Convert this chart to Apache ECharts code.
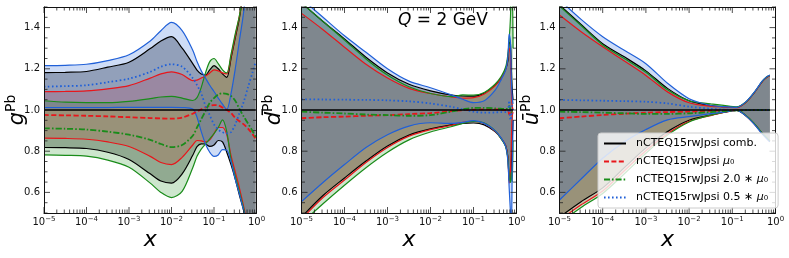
<!DOCTYPE html>
<html><head><meta charset="utf-8">
<script src="https://cdn.jsdelivr.net/npm/echarts@6/dist/echarts.min.js"></script>
<style>html,body{margin:0;padding:0;background:#fff}#c{width:789px;height:258px}</style>
</head><body><div id="c"></div>
<script>
// ---------- Panel 1: gluon g^Pb ----------
const g_logx = [-5,-4.5,-4,-3.5,-3,-2.5,-2.25,-2,-1.75,-1.5,-1.4,-1.3,-1.2,-1.1,-1.0,-0.9,-0.8,-0.7,-0.6,-0.5,-0.4,-0.3,-0.2,-0.1,-0.02];
const g_kU = [1.181,1.183,1.187,1.208,1.232,1.298,1.335,1.356,1.30,1.225,1.194,1.175,1.17,1.195,1.215,1.2,1.175,1.158,1.25,1.35,1.45,1.59,1.8,2.0,2.1];
const g_kL = [0.818,0.817,0.813,0.795,0.76,0.69,0.655,0.645,0.69,0.78,0.822,0.836,0.835,0.823,0.83,0.852,0.845,0.795,0.735,0.665,0.585,0.51,0.42,0.33,0.27];
const g_rU = [1.089,1.09,1.093,1.103,1.118,1.155,1.175,1.185,1.172,1.143,1.145,1.155,1.165,1.18,1.195,1.19,1.18,1.175,1.26,1.36,1.46,1.6,1.8,2.0,2.1];
const g_rL = [0.863,0.862,0.858,0.845,0.823,0.775,0.745,0.735,0.77,0.83,0.852,0.85,0.845,0.855,0.885,0.915,0.915,0.88,0.78,0.7,0.62,0.53,0.43,0.33,0.28];
const g_gU = [1.045,1.038,1.036,1.036,1.042,1.055,1.063,1.066,1.058,1.046,1.06,1.11,1.18,1.235,1.25,1.225,1.195,1.18,1.27,1.37,1.46,1.6,1.8,2.0,2.1];
const g_gL = [0.782,0.78,0.776,0.757,0.722,0.645,0.6,0.575,0.605,0.72,0.775,0.81,0.835,0.86,0.885,0.915,0.952,0.895,0.76,0.68,0.6,0.52,0.42,0.32,0.27];
const g_bU = [1.215,1.217,1.222,1.24,1.268,1.335,1.385,1.425,1.385,1.29,1.235,1.19,1.155,1.12,1.09,1.058,1.028,1.003,1.08,1.2,1.34,1.48,1.7,1.9,2.0];
const g_bL = [1.012,1.012,1.012,1.012,1.013,1.013,1.013,1.013,1.012,1.005,0.965,0.895,0.835,0.795,0.775,0.782,0.808,0.805,0.75,0.665,0.59,0.51,0.42,0.33,0.27];
const g_rC = [0.976,0.974,0.972,0.969,0.965,0.961,0.959,0.958,0.963,0.982,0.993,1.003,1.013,1.02,1.024,1.022,1.012,1.0,0.985,0.962,0.945,0.93,0.91,0.885,0.86];
const g_gC = [0.911,0.909,0.905,0.895,0.88,0.855,0.835,0.82,0.83,0.875,0.915,0.955,0.995,1.035,1.058,1.075,1.081,1.078,1.068,1.045,1.005,0.968,0.935,0.9,0.87];
const g_bC = [1.113,1.116,1.12,1.135,1.152,1.185,1.21,1.222,1.21,1.155,1.121,1.08,1.02,0.975,0.93,0.905,0.892,0.886,0.892,0.93,0.985,1.04,1.11,1.178,1.235];
const g_refX = [1e-5, 0.955];

// ---------- Panel 2: dbar^Pb ----------
const d_logx = [-5,-4.5,-4,-3.5,-3,-2.5,-2,-1.5,-1.25,-1,-0.75,-0.5,-0.35,-0.25,-0.2,-0.17,-0.14,-0.12,-0.1,-0.08];
const d_kU = [1.52,1.43,1.345,1.256,1.18,1.125,1.093,1.072,1.068,1.067,1.082,1.12,1.158,1.2,1.24,1.33,1.32,1.2,1.1,1.05];
const d_kL = [0.48,0.585,0.67,0.752,0.825,0.878,0.908,0.928,0.935,0.937,0.928,0.895,0.86,0.825,0.77,0.66,0.65,0.75,0.85,0.95];
const d_rU = [1.469,1.39,1.305,1.222,1.155,1.105,1.08,1.063,1.058,1.06,1.078,1.118,1.158,1.2,1.255,1.3,1.25,1.1,1.02,1.0];
const d_rL = [0.47,0.575,0.66,0.745,0.818,0.873,0.905,0.926,0.94,0.945,0.935,0.898,0.86,0.825,0.765,0.645,0.7,0.85,0.97,0.99];
const d_gU = [1.52,1.43,1.34,1.248,1.17,1.113,1.08,1.065,1.073,1.072,1.085,1.125,1.165,1.21,1.27,1.34,1.45,1.6,1.6,1.3];
const d_gL = [0.45,0.545,0.635,0.72,0.795,0.855,0.893,0.92,0.935,0.945,0.937,0.9,0.858,0.82,0.76,0.67,0.65,0.7,0.65,0.85];
const d_bU = [1.54,1.45,1.36,1.28,1.2,1.14,1.108,1.072,1.052,1.036,1.045,1.095,1.15,1.195,1.26,1.37,1.33,1.15,1.06,1.03];
const d_bL = [0.555,0.648,0.735,0.818,0.88,0.922,0.938,0.935,0.94,0.948,0.935,0.9,0.862,0.822,0.75,0.62,0.5,0.4,0.7,0.95];
const d_rC = [0.96,0.965,0.968,0.972,0.975,0.98,0.985,0.995,0.999,1.002,1.003,1.003,1.002,1.0,1.0,0.98,0.97,0.99,1.0,1.0];
const d_gC = [0.992,0.987,0.983,0.978,0.975,0.972,0.975,0.993,1.003,1.01,1.01,1.008,1.006,1.005,1.005,1.02,1.0,0.99,1.0,1.0];
const d_bC = [1.052,1.051,1.05,1.049,1.047,1.042,1.032,1.015,1.003,0.992,0.987,0.988,0.99,0.99,0.99,1.045,0.95,0.97,1.02,1.0];
const d_refX = [1e-5, 0.83];

// ---------- Panel 3: ubar^Pb ----------
const u_logx = [-5,-4.5,-4,-3.5,-3,-2.5,-2,-1.5,-1.2,-0.9,-0.7,-0.5,-0.3,-0.2,-0.13];
const u_kU = [1.51,1.415,1.322,1.258,1.19,1.105,1.045,1.022,1.016,1.013,1.035,1.082,1.14,1.16,1.168];
const u_kL = [0.48,0.555,0.622,0.72,0.816,0.895,0.95,0.975,0.988,0.998,0.975,0.935,0.884,0.862,0.848];
const u_rU = [1.461,1.38,1.307,1.238,1.168,1.088,1.035,1.018,1.015,1.012,1.034,1.081,1.139,1.159,1.167];
const u_rL = [0.465,0.54,0.607,0.705,0.802,0.885,0.945,0.973,0.988,0.998,0.975,0.934,0.884,0.862,0.848];
const u_gU = [1.505,1.41,1.316,1.25,1.183,1.098,1.045,1.03,1.022,1.015,1.036,1.083,1.141,1.161,1.169];
const u_gL = [0.45,0.527,0.595,0.69,0.79,0.878,0.942,0.975,0.99,0.999,0.976,0.936,0.886,0.864,0.85];
const u_bU = [1.535,1.44,1.356,1.29,1.225,1.13,1.055,1.022,1.016,1.013,1.037,1.084,1.142,1.162,1.17];
const u_bL = [0.563,0.665,0.766,0.845,0.905,0.952,0.968,0.982,0.99,0.998,0.974,0.933,0.882,0.86,0.845];
const u_rC = [0.96,0.968,0.976,0.982,0.987,0.99,0.992,0.996,0.999,1.0,1.0,1.0,1.0,1.0,1.0];
const u_gC = [0.992,0.99,0.987,0.984,0.981,0.981,0.984,0.99,0.995,0.998,0.999,1.0,1.0,1.0,1.0];
const u_bC = [1.049,1.047,1.045,1.043,1.04,1.032,1.016,1.006,1.002,1.0,1.0,1.0,1.0,1.0,1.0];
const u_refX = [1e-5, 0.74];

const refY = [1.0, 1.0];

// ---------- ticks / labels ----------
const xMajorTicks = [1e-5,1e-4,1e-3,1e-2,1e-1,1];
const xMinorMantissas = [2,3,4,5,6,7,8,9];
const yMajorTicks = [0.6,0.8,1.0,1.2,1.4];
const yMinorTicks = [0.5,0.55,0.65,0.7,0.75,0.85,0.9,0.95,1.05,1.1,1.15,1.25,1.3,1.35,1.45,1.5];
const yNames = ['{b|g}{s|Pb}', '{b|d\u0304}{s|Pb}', '{b|u\u0304}{s|Pb}'];
const legendNames = ['nCTEQ15rwJpsi comb.', 'nCTEQ15rwJpsi \u03bc\u2080', 'nCTEQ15rwJpsi 2.0 \u2217 \u03bc\u2080', 'nCTEQ15rwJpsi 0.5 \u2217 \u03bc\u2080'];
const legendRich = ['nCTEQ15rwJpsi comb.', 'nCTEQ15rwJpsi {m|\u03bc}\u2080', 'nCTEQ15rwJpsi 2.0 \u2217 {m|\u03bc}\u2080', 'nCTEQ15rwJpsi 0.5 \u2217 {m|\u03bc}\u2080'];

const FONT = 'DejaVu Sans';
const COL = {k:'#000000', r:'#e8161b', g:'#1a8c1a', b:'#2060d8'};
const FILL = {k:['#000000',0.3], r:['#e8161b',0.2], g:['#1a8c1a',0.22], b:['#2060d8',0.22]};
const S = 0.3;

const panels = [
  {logx:g_logx, k:[g_kL,g_kU], r:[g_rL,g_rU], g:[g_gL,g_gU], b:[g_bL,g_bU], rc:g_rC, gc:g_gC, bc:g_bC, refX:g_refX},
  {logx:d_logx, k:[d_kL,d_kU], r:[d_rL,d_rU], g:[d_gL,d_gU], b:[d_bL,d_bU], rc:d_rC, gc:d_gC, bc:d_bC, refX:d_refX},
  {logx:u_logx, k:[u_kL,u_kU], r:[u_rL,u_rU], g:[u_gL,u_gU], b:[u_bL,u_bU], rc:u_rC, gc:u_gC, bc:u_bC, refX:u_refX}
];
const gridPos = [
  {left:44, top:7, width:212.5, height:206},
  {left:301.5, top:7, width:215, height:206},
  {left:559.5, top:7, width:216, height:206}
];

const grid = [], xAxis = [], yAxis = [], series = [];
panels.forEach((p, i) => {
  grid.push(Object.assign({outerBoundsMode:'none', containLabel:false}, gridPos[i]));
  xAxis.push({type:'log', gridIndex:i, min:1e-5, max:1, logBase:10, position:'bottom', z:10,
    axisLine:{show:true, lineStyle:{color:'#111', width:1}}, axisTick:{show:false}, splitLine:{show:false}, minorTick:{show:false},
    axisLabel:{show:true, margin:3, showMinLabel:true, showMaxLabel:true, color:'#111',
      formatter:v => { const e = Math.round(Math.log10(v)); return '{b|10}{s|' + (e < 0 ? '\u2212' + (-e) : e) + '}'; },
      rich:{b:{fontSize:10, fontFamily:FONT, color:'#111'}, s:{fontSize:7, fontFamily:FONT, color:'#111', padding:[0,0,6,0]}}},
    name:'x', nameLocation:'middle', nameGap:16, nameMoveOverlap:false,
    nameTextStyle:{fontSize:22, fontStyle:'italic', fontFamily:FONT, color:'#000'}});
  xAxis.push({type:'log', gridIndex:i, min:1e-5, max:1, logBase:10, position:'top', z:10,
    axisLine:{show:true, lineStyle:{color:'#111', width:1}}, axisTick:{show:false}, axisLabel:{show:false}, splitLine:{show:false}});
  yAxis.push({type:'value', gridIndex:i, min:0.5, max:1.5, interval:0.1, position:'left', z:10,
    axisLine:{show:true, lineStyle:{color:'#111', width:1}}, axisTick:{show:false}, splitLine:{show:false},
    axisLabel:{margin:4, fontSize:10, fontFamily:FONT, color:'#111',
      formatter:v => { const k = Math.round(v*10); return k % 2 === 0 ? (k/10).toFixed(1) : ''; }},
    name:yNames[i], nameLocation:'middle', nameRotate:90, nameGap:13, nameMoveOverlap:false,
    nameTextStyle:{fontFamily:FONT, color:'#000', rich:{b:{fontSize:21, fontStyle:'italic', fontFamily:FONT, color:'#000'}, s:{fontSize:14, fontFamily:FONT, color:'#000', padding:[0,0,13,0]}}}});
  yAxis.push({type:'value', gridIndex:i, min:0.5, max:1.5, position:'right', z:10,
    axisLine:{show:true, lineStyle:{color:'#111', width:1}}, axisTick:{show:false}, axisLabel:{show:false}, splitLine:{show:false}});

  const X = p.logx.map(e => Math.pow(10, e));
  const ax = {xAxisIndex:2*i, yAxisIndex:2*i};
  const keys = ['k','r','g','b'];
  // band fills (stacked: lower + (upper-lower))
  keys.forEach(key => {
    const lo = p[key][0], hi = p[key][1];
    const common = Object.assign({type:'line', stack:'band'+i+key, stackStrategy:'all', encode:{x:1, y:0},
      symbol:'none', smooth:S, z:1, silent:true, lineStyle:{width:0, opacity:0}}, ax);
    series.push(Object.assign({}, common, {data:X.map((x,j) => [lo[j], x])}));
    series.push(Object.assign({}, common, {data:X.map((x,j) => [hi[j]-lo[j], x]),
      areaStyle:{color:FILL[key][0], opacity:FILL[key][1]}}));
  });
  // band edges
  keys.forEach(key => {
    p[key].forEach(arr => {
      series.push(Object.assign({type:'line', symbol:'none', smooth:S, z:3, silent:true,
        data:X.map((x,j) => [x, arr[j]]), lineStyle:{color:COL[key], width:1.2}}, ax));
    });
  });
  // central lines
  const nm = i === 2;
  series.push(Object.assign({type:'line', name: nm ? legendNames[0] : undefined, symbol:'none', z:5, silent:true,
    data:p.refX.map((x,j) => [x, refY[j]]), lineStyle:{color:'#000', width:1.6}}, ax));
  series.push(Object.assign({type:'line', name: nm ? legendNames[1] : undefined, symbol:'none', smooth:S, z:4, silent:true,
    data:X.map((x,j) => [x, p.rc[j]]), lineStyle:{color:COL.r, width:1.8, type:[5,2.4]}}, ax));
  series.push(Object.assign({type:'line', name: nm ? legendNames[2] : undefined, symbol:'none', smooth:S, z:4, silent:true,
    data:X.map((x,j) => [x, p.gc[j]]), lineStyle:{color:COL.g, width:1.8, type:[6,2,1.6,2]}}, ax));
  series.push(Object.assign({type:'line', name: nm ? legendNames[3] : undefined, symbol:'none', smooth:S, z:4, silent:true,
    data:X.map((x,j) => [x, p.bc[j]]), lineStyle:{color:COL.b, width:1.8, type:[1.6,2.4]}}, ax));
  // ticks (inward, all four sides)
  series.push(Object.assign({type:'custom', z:8, silent:true, clip:false, data:[[1e-2, 1]],
    renderItem:function(params, api){
      const cs = params.coordSys;
      const top = cs.y, bot = cs.y + cs.height, left = cs.x, right = cs.x + cs.width;
      const ch = [];
      const seg = (x1,y1,x2,y2) => ch.push({type:'line', shape:{x1,y1,x2,y2}, style:{stroke:'#222', lineWidth:0.8}});
      xMajorTicks.forEach(v => { const x = api.coord([v,1])[0]; seg(x,bot,x,bot-6); seg(x,top,x,top+6); });
      xMajorTicks.slice(0,-1).forEach(d => xMinorMantissas.forEach(m => {
        const x = api.coord([d*m,1])[0]; seg(x,bot,x,bot-3.5); seg(x,top,x,top+3.5); }));
      yMajorTicks.forEach(v => { const y = api.coord([1e-2,v])[1]; seg(left,y,left+6,y); seg(right,y,right-6,y); });
      yMinorTicks.forEach(v => { const y = api.coord([1e-2,v])[1]; seg(left,y,left+3.5,y); seg(right,y,right-3.5,y); });
      return {type:'group', children:ch};
    }}, ax));
});

const chart = echarts.init(document.getElementById('c'), null, {renderer:'canvas'});
chart.setOption({
  animation:false,
  textStyle:{fontFamily:FONT},
  grid, xAxis, yAxis, series,
  legend:{orient:'vertical', left:598, top:133, z:20, selectedMode:false,
    data:legendNames, itemWidth:22, itemHeight:11, itemGap:7, padding:[5,10,5,5],
    backgroundColor:'rgba(255,255,255,0.8)', borderColor:'#cccccc', borderWidth:1, borderRadius:3,
    itemStyle:{opacity:0},
    formatter:name => legendRich[legendNames.indexOf(name)],
    textStyle:{fontFamily:FONT, fontSize:11, color:'#000', padding:[0,0,0,5],
      rich:{m:{fontFamily:FONT, fontSize:11, fontStyle:'italic', color:'#000'}}}},
  graphic:[{type:'text', left:398, top:12, z:20,
    style:{text:'{q|Q} = 2 GeV', fill:'#000', font:'17px "DejaVu Sans"',
      rich:{q:{fontStyle:'italic', fontSize:17, fontFamily:FONT, fill:'#000'}}}}]
});
</script></body></html>
